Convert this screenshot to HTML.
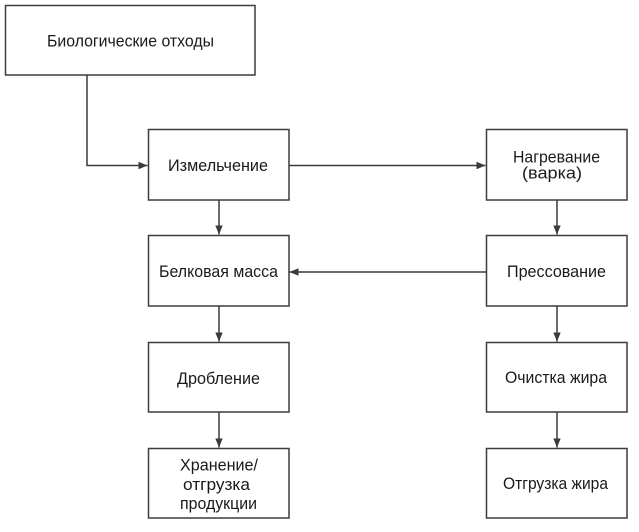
<!DOCTYPE html>
<html>
<head>
<meta charset="utf-8">
<style>
  html, body { margin: 0; padding: 0; background: #ffffff; }
  svg { display: block; }
  text { font-family: "Liberation Sans", Arial, sans-serif; font-size: 16.5px; fill: #1a1a1a; }
</style>
</head>
<body>
<svg width="639" height="532" viewBox="0 0 639 532" xmlns="http://www.w3.org/2000/svg">
  <defs>
    <marker id="ah" markerWidth="9" markerHeight="9" refX="9" refY="4.5" orient="auto" markerUnits="userSpaceOnUse">
      <path d="M0,0.8 L9,4.5 L0,8.2 Z" fill="#3a3a3a"/>
    </marker>
  </defs>
  <rect width="639" height="532" fill="#ffffff"/>

  <g fill="#ffffff" stroke="#3c3c3c" stroke-width="1.5">
    <rect x="5.5" y="5.5" width="249.5" height="69.5"/>
    <rect x="148.5" y="129.5" width="140.5" height="70.5"/>
    <rect x="486.5" y="129.5" width="140.5" height="70.5"/>
    <rect x="148.5" y="235.5" width="140.5" height="70.5"/>
    <rect x="486.5" y="235.5" width="140.5" height="70.5"/>
    <rect x="148.5" y="342.5" width="140.5" height="69.5"/>
    <rect x="486.5" y="342.5" width="140.5" height="69.5"/>
    <rect x="148.5" y="448.5" width="140.5" height="69.5"/>
    <rect x="486.5" y="448.5" width="140.5" height="69.5"/>
  </g>

  <g fill="none" stroke="#3a3a3a" stroke-width="1.5">
    <path d="M87,75 L87,165.5 L147.5,165.5" marker-end="url(#ah)"/>
    <path d="M289,165.5 L485.5,165.5" marker-end="url(#ah)"/>
    <path d="M219,200 L219,234.5" marker-end="url(#ah)"/>
    <path d="M557,200 L557,234.5" marker-end="url(#ah)"/>
    <path d="M486,272 L289.5,272" marker-end="url(#ah)"/>
    <path d="M219,306 L219,341.5" marker-end="url(#ah)"/>
    <path d="M557,306 L557,341.5" marker-end="url(#ah)"/>
    <path d="M219,412 L219,447.5" marker-end="url(#ah)"/>
    <path d="M557,412 L557,447.5" marker-end="url(#ah)"/>
  </g>

  <g text-anchor="middle">
    <text x="130.5" y="46.5" textLength="167" lengthAdjust="spacingAndGlyphs">Биологические отходы</text>
    <text x="218" y="171" textLength="100" lengthAdjust="spacingAndGlyphs">Измельчение</text>
    <text x="556.5" y="162.5" textLength="87" lengthAdjust="spacingAndGlyphs">Нагревание</text>
    <text x="552" y="178.5" textLength="60" lengthAdjust="spacingAndGlyphs">(варка)</text>
    <text x="556.5" y="277" textLength="99" lengthAdjust="spacingAndGlyphs">Прессование</text>
    <text x="218.5" y="277" textLength="119" lengthAdjust="spacingAndGlyphs">Белковая масса</text>
    <text x="218.5" y="384" textLength="83" lengthAdjust="spacingAndGlyphs">Дробление</text>
    <text x="556" y="383" textLength="102" lengthAdjust="spacingAndGlyphs">Очистка жира</text>
    <text x="219" y="470.5" textLength="78" lengthAdjust="spacingAndGlyphs">Хранение/</text>
    <text x="216.5" y="490" textLength="67" lengthAdjust="spacingAndGlyphs">отгрузка</text>
    <text x="218.5" y="509" textLength="77" lengthAdjust="spacingAndGlyphs">продукции</text>
    <text x="555.5" y="489" textLength="105" lengthAdjust="spacingAndGlyphs">Отгрузка жира</text>
  </g>
</svg>
</body>
</html>
